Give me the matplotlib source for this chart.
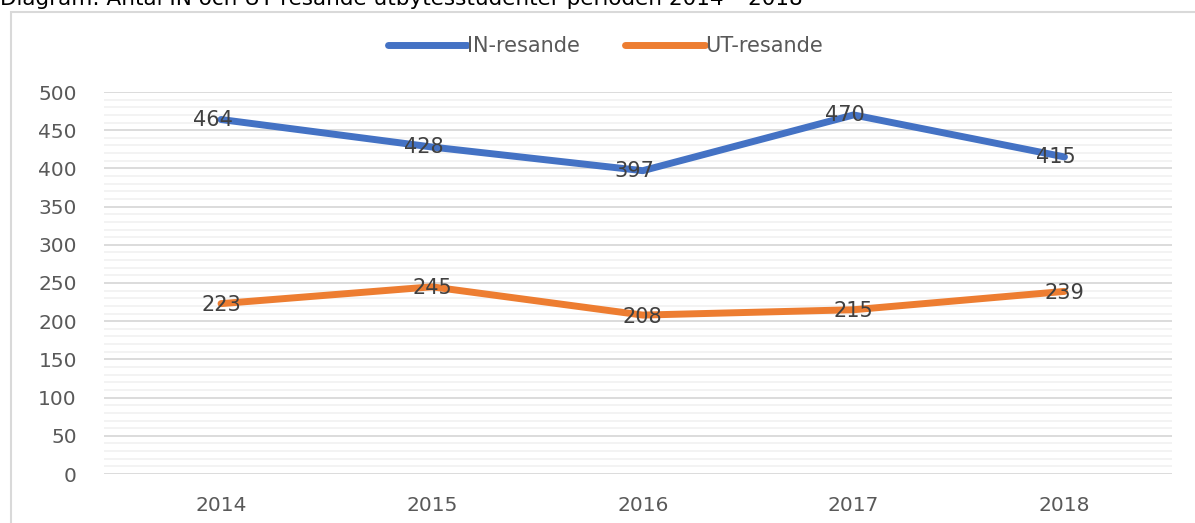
import matplotlib.pyplot as plt
import matplotlib.patches as patches
import numpy as np

years = ['2014', '2015', '2016', '2017', '2018']
in_resande = [464, 428, 397, 470, 415]
ut_resande = [223, 245, 208, 215, 239]

plt.rcParams['font.family'] = ['DejaVu Sans']

fig = plt.figure(figsize=(11.95, 5.23), dpi=100)
W, H = 1195, 523

# chart frame (cut at right and bottom)
fig.patches.append(patches.Rectangle((11 / W, -0.1), 1.2, (H - 12) / H + 0.1,
                                     transform=fig.transFigure, fill=False,
                                     edgecolor='#d9d9d9', linewidth=1.5))

fig.text(0.0, (H - 5) / H, 'Diagram: Antal IN och UT resande utbytesstudenter perioden 2014 – 2018',
         ha='left', va='baseline', fontsize=15.5, color='#000000')

ax = fig.add_axes([104 / W, (H - 474) / H, (1172 - 104) / W, (474 - 92) / H])
x = np.arange(len(years))

ax.set_ylim(0, 500)
ax.set_xlim(-0.555, 4.51)
ax.set_yticks(np.arange(0, 501, 50))
ax.set_yticks(np.arange(0, 501, 10), minor=True)
ax.grid(axis='y', which='minor', color='#f2f2f2', linewidth=1.3)
ax.grid(axis='y', which='major', color='#d9d9d9', linewidth=1.3)
ax.set_axisbelow(True)
for s in ax.spines.values():
    s.set_visible(False)
ax.tick_params(axis='both', which='both', length=0, labelsize=14.5, colors='#595959')
ax.tick_params(axis='y', pad=19.5)
ax.tick_params(axis='x', pad=16)
ax.set_xticks(x)
ax.set_xticklabels(years)

l1, = ax.plot(x, in_resande, color='#4472C4', linewidth=5, solid_capstyle='round', label='IN-resande')
l2, = ax.plot(x, ut_resande, color='#ED7D31', linewidth=5, solid_capstyle='round', label='UT-resande')

for xi, v in zip(x, in_resande):
    ax.text(xi - 0.04, v, str(v), ha='center', va='center', fontsize=15, color='#404040')
for xi, v in zip(x, ut_resande):
    ax.text(xi, v - 2, str(v), ha='center', va='center', fontsize=15, color='#404040')

fig.legend(handles=[l1, l2], loc='center', bbox_to_anchor=(605 / W, (H - 46) / H), ncol=2,
           frameon=False, fontsize=15, handlelength=3.8, handletextpad=0.0,
           columnspacing=2.2, labelcolor='#595959')

fig.savefig('out.png', dpi=100)
